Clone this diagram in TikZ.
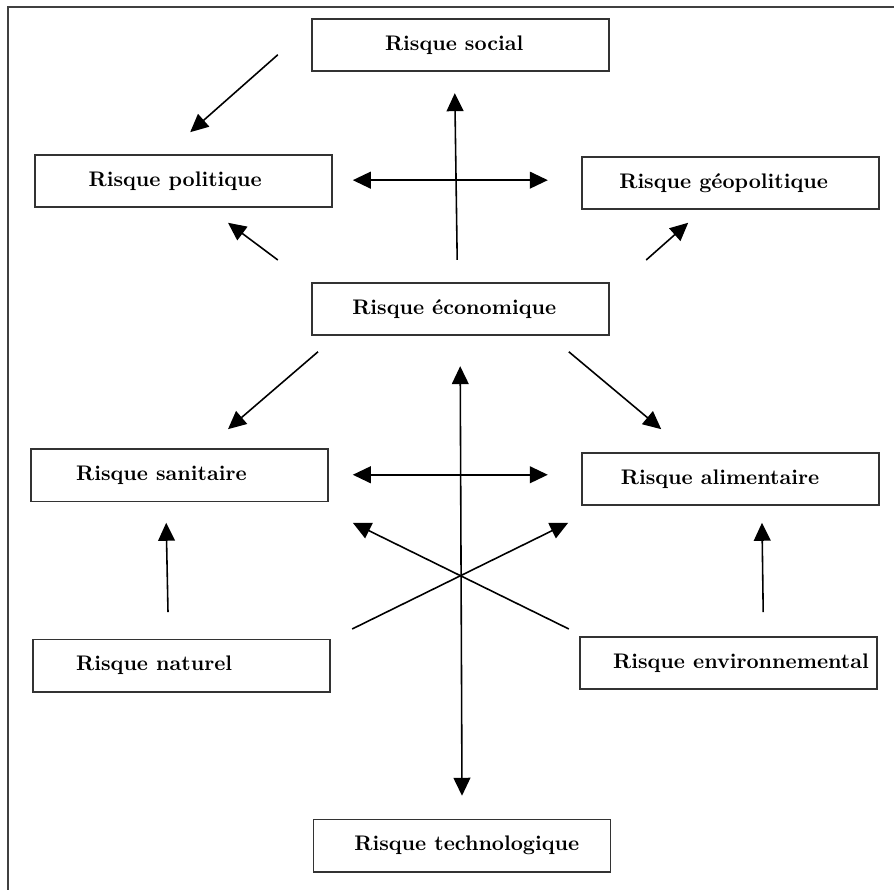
\documentclass[tikz,border=0pt]{standalone}
\usepackage{amsmath}
\usepackage{xcolor}
\usepackage{tikz}
\usetikzlibrary{shapes,arrows.meta,calc}
\tikzstyle{tsBold} = [
    text=black,
    font=\bfseries
]
\tikzstyle{tsBox} = [
    rectangle,
    draw=black!80,
    line width=0.8pt,
    minimum width=4.95cm,
    minimum height=0.87cm,
    inner sep=0pt,
    fill=white]
\tikzstyle{tsArrow} = [
    line width=0.75pt,
    -{Triangle[length=0.3cm,width=0.28cm]}]
\tikzstyle{tsBiArrow} = [
    line width=0.75pt,
    {Triangle[length=0.3cm,width=0.28cm]}-{Triangle[length=0.3cm,width=0.28cm]}]

\begin{document}
\begin{tikzpicture}

        \useasboundingbox (0,0) rectangle (14.9,14.833);
        \draw[black!75, line width=1pt] (0.13,0) -- (0.13,14.72) -- (14.9,14.72);

        \node[tsBox, label={[tsBold, xshift=-0.1cm]center:Risque social}]          (soc) at (7.67,14.08) {};
        \node[tsBox, label={[tsBold, xshift=-0.14cm]center:Risque politique}]      (pol) at (3.06,11.82) {};
        \node[tsBox, label={[tsBold, xshift=-0.12cm]center:Risque géopolitique}]   (geo) at (12.18,11.78) {};
        \node[tsBox, label={[tsBold, xshift=-0.1cm]center:Risque économique}]      (eco) at (7.67,9.68) {};
        \node[tsBox, label={[tsBold, xshift=-0.3cm]center:Risque sanitaire}]       (san) at (2.99,6.91) {};
        \node[tsBox, label={[tsBold, xshift=-0.18cm]center:Risque alimentaire}]    (ali) at (12.18,6.85) {};
        \node[tsBox, label={[tsBold, xshift=-0.45cm]center:Risque naturel}]        (nat) at (3.02,3.74) {};
        \node[tsBox, label={[tsBold, xshift=0.21cm]center:Risque environnemental}] (env) at (12.14,3.78) {};
        \node[tsBox, label={[tsBold, xshift=0.08cm]center:Risque technologique}]   (tec) at (7.70,0.74) {};

        \coordinate (socA) at (4.63,13.92);  \coordinate (polA) at (3.17,12.63);
        \coordinate (polB) at (5.88,11.83);  \coordinate (geoB) at (9.13,11.83);
        \coordinate (ecoC) at (7.62,10.5);   \coordinate (socC) at (7.58,13.28);
        \coordinate (ecoD) at (4.63,10.5);   \coordinate (polD) at (3.8,11.12);
        \coordinate (ecoE) at (10.77,10.5);  \coordinate (geoE) at (11.47,11.12);
        \coordinate (ecoF) at (5.3,8.97);    \coordinate (sanF) at (3.8,7.68);
        \coordinate (ecoG) at (9.48,8.97);   \coordinate (aliG) at (11.02,7.68);
        \coordinate (sanH) at (5.88,6.92);   \coordinate (aliH) at (9.13,6.92);
        \coordinate (ecoI) at (7.67,8.73);   \coordinate (tecI) at (7.7,1.57);
        \coordinate (natJ) at (2.8,4.63);    \coordinate (sanJ) at (2.77,6.12);
        \coordinate (envK) at (12.72,4.63);  \coordinate (aliK) at (12.7,6.12);
        \coordinate (envL) at (9.48,4.35);   \coordinate (sanL) at (5.88,6.12);
        \coordinate (natM) at (5.87,4.35);   \coordinate (aliM) at (9.47,6.12);

        \draw[tsArrow]   (socA) -- (polA);
        \draw[tsBiArrow] (polB) -- (geoB);
        \draw[tsArrow]   (ecoC) -- (socC);
        \draw[tsArrow]   (ecoD) -- (polD);
        \draw[tsArrow]   (ecoE) -- (geoE);
        \draw[tsArrow]   (ecoF) -- (sanF);
        \draw[tsArrow]   (ecoG) -- (aliG);
        \draw[tsBiArrow] (sanH) -- (aliH);
        \draw[tsBiArrow] (ecoI) -- (tecI);
        \draw[tsArrow]   (natJ) -- (sanJ);
        \draw[tsArrow]   (envK) -- (aliK);
        \draw[tsArrow]   (envL) -- (sanL);
        \draw[tsArrow]   (natM) -- (aliM);

       \end{tikzpicture}
\end{document}
